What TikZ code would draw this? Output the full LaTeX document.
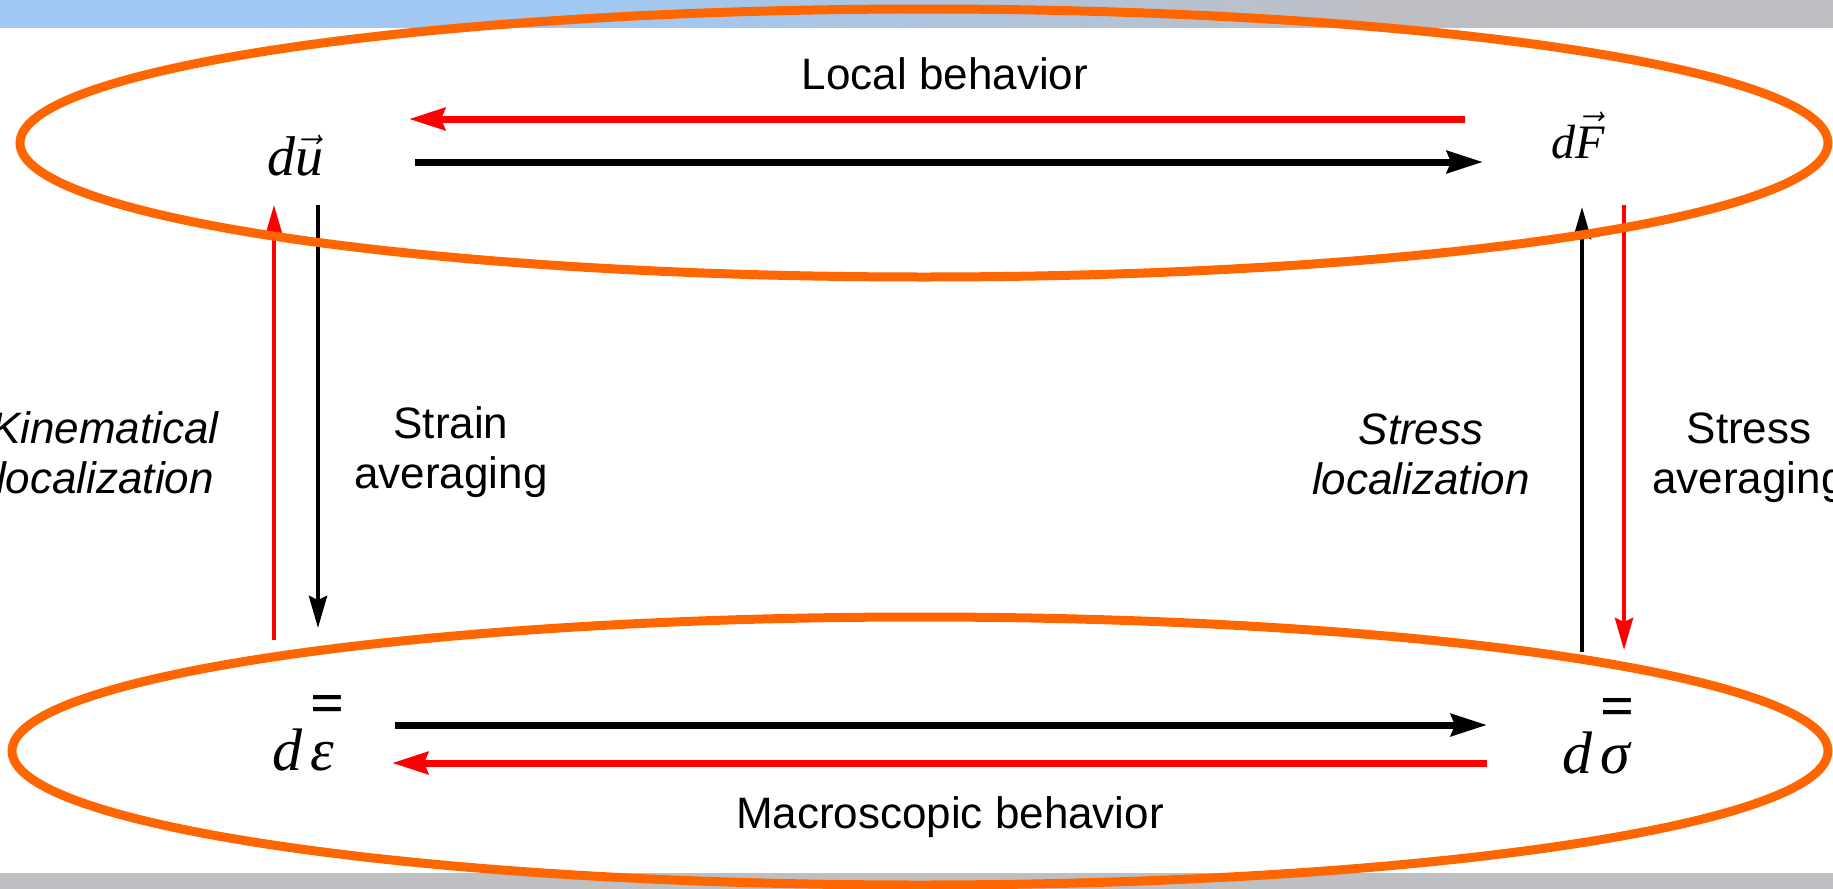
\documentclass[tikz,border=0pt]{standalone}
\usepackage{fontspec}
\setmainfont{Liberation Sans}
\newfontfamily\tms{Liberation Serif}
\usetikzlibrary{arrows.meta, calc}

\definecolor{ringorange}{RGB}{255,102,0}
\definecolor{barblue}{RGB}{160,200,242}
\definecolor{bargray}{RGB}{190,191,195}
\pgfdeclarehorizontalshading{topbar}{100bp}{color(0bp)=(barblue); color(41bp)=(barblue); color(63bp)=(bargray); color(100bp)=(bargray)}
\newcommand{\tens}[1]{\rlap{\raisebox{0.77em}{\upshape\bfseries =}}#1}

\begin{document}
\begin{tikzpicture}[x=0.5pt, y=-0.5pt, every node/.style={inner sep=0pt},
  lbl/.style={font=\fontsize{22}{25}\selectfont, align=center},
  ital/.style={align=center, font=\fontsize{22}{25}\selectfont\itshape},
  symtop/.style={anchor=base, font=\fontsize{28}{32}\selectfont\tms\itshape},
  symbot/.style={anchor=base, font=\fontsize{30}{34}\selectfont\tms\itshape},
  ring/.style={draw=ringorange, line width=4.5pt},
  flow/.style={line width=3.5pt, -{Stealth[length=18pt, width=11pt, inset=2pt]}},
  vflow/.style={line width=2.2pt, -{Stealth[length=16pt, width=9pt, inset=2pt]}}]
  \useasboundingbox (0,0) rectangle (1833,889);
  \clip (0,0) rectangle (1833,889);
  \fill[white] (0,0) rectangle (1833,889);
  \shade[shading=topbar] (0,0) rectangle (1833,27);
  \fill[bargray] (0,873) rectangle (1833,889);

  % Nodes
  \node[symtop] (du) at (295,175) {d$\vec{\mbox{u}}$};
  \node[symtop, font=\fontsize{24}{28}\selectfont\tms\itshape] (dF) at (1578,158) {d$\vec{\mbox{F}}$};
  \node[symbot] (deps) at (303,770) {d\kern4pt\tens{ε}};
  \node[symbot] (dsig) at (1596,773) {d\kern4pt\tens{σ}};
  \node[lbl, anchor=base] (local) at (945,89) {Local behavior};
  \node[lbl, anchor=base] (macro) at (950,828) {Macroscopic behavior};
  \node[ital] (kinloc) at (105,453) {Kinematical\\localization};
  \node[lbl] (strav) at (451,452) {Strain\\averaging};
  \node[ital] (strloc) at (1421,454) {Stress\\localization};
  \node[lbl] (stsav) at (1749,458) {Stress\\averaging};

  % Arrows
  \draw[flow] ($(du.base)+(120,-13)$) -- ($(dF.base)+(-95,4)$);
  \draw[flow, red] ($(dF.base)+(-113,-39)$) -- ($(du.base)+(114,-56)$);
  \draw[flow] ($(deps.base)+(92,-45)$) -- ($(dsig.base)+(-109,-48)$);
  \draw[flow, red] ($(dsig.base)+(-109,-10)$) -- ($(deps.base)+(89,-7)$);
  \draw[vflow, red] ($(deps.base)+(-29,-130)$) -- ($(du.base)+(-21,30)$);
  \draw[vflow] ($(du.base)+(23,30)$) -- ($(deps.base)+(15,-142)$);
  \draw[vflow] ($(dsig.base)+(-14,-121)$) -- ($(dF.base)+(4,49)$);
  \draw[vflow, red] ($(dF.base)+(46,47)$) -- ($(dsig.base)+(28,-123)$);

  % Groups
  \draw[ring] (924,143) ellipse [x radius=904, y radius=134];
  \draw[ring] (920,751) ellipse [x radius=908, y radius=134];
\end{tikzpicture}
\end{document}
